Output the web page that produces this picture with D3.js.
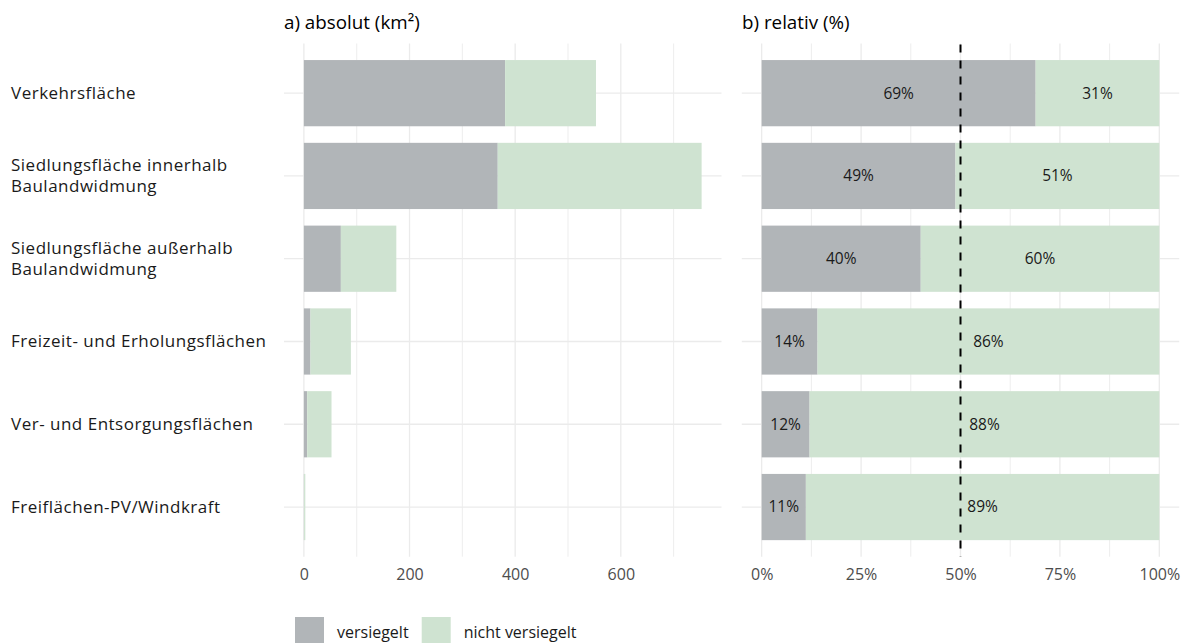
<!DOCTYPE html>
<html><head><meta charset="utf-8">
<script src="https://cdn.jsdelivr.net/npm/d3@7"></script>
<style>
body{margin:0;background:#fff;}
text{font-family:"Open Sans","Noto Sans",sans-serif;}
</style></head>
<body><svg id="c" width="1181" height="643"></svg>
<script>
const categories = ["Verkehrsfläche","Siedlungsfläche innerhalb\nBaulandwidmung","Siedlungsfläche außerhalb\nBaulandwidmung","Freizeit- und Erholungsflächen","Ver- und Entsorgungsflächen","Freiflächen-PV/Windkraft"];
const versiegelt = [381, 367, 70, 12.5, 6.3, 0.3];
const nichtVersiegelt = [172, 386, 105, 76.5, 46, 2.4];
const seriesNames = ["versiegelt","nicht versiegelt"];
const colors = ["#b1b5b8","#cfe3d1"];
const absTicks = [0,200,400,600];
const absMinor = [100,300,500,700];
const relTicks = [0,25,50,75,100];
const relMinor = [12.5,37.5,62.5,87.5];

const svg = d3.select("#c");
const yTop = 43.5, yBottom = 556.7;
const y = d3.scaleBand().domain(categories).range([yTop,yBottom]).paddingInner(0.2).paddingOuter(0.2);

const maxAbs = d3.max(versiegelt.map((v,i)=>v+nichtVersiegelt[i]));
const xa = d3.scaleLinear().domain([-0.05*maxAbs, maxAbs*1.05]).range([284,721.5]);
const xr = d3.scaleLinear().domain([-5,105]).range([741.8,1179.2]);

const grid = "#ebebeb";
function panel(x, major, minor){
  const g = svg.append("g");
  g.selectAll(".mn").data(minor).join("line").attr("x1",d=>x(d)).attr("x2",d=>x(d)).attr("y1",yTop).attr("y2",yBottom).attr("stroke",grid).attr("stroke-width",0.9);
  g.selectAll(".mj").data(major).join("line").attr("x1",d=>x(d)).attr("x2",d=>x(d)).attr("y1",yTop).attr("y2",yBottom).attr("stroke",grid).attr("stroke-width",1.3);
  g.selectAll(".hy").data(categories).join("line").attr("x1",x.range()[0]).attr("x2",x.range()[1]).attr("y1",d=>y(d)+y.bandwidth()/2).attr("y2",d=>y(d)+y.bandwidth()/2).attr("stroke",grid).attr("stroke-width",1.3);
  return g;
}
panel(xa, absTicks, absMinor);
panel(xr, relTicks, relMinor);

// absolute bars
const absData = categories.map((c,i)=>({c, v:versiegelt[i], n:nichtVersiegelt[i]}));
const ga = svg.append("g");
ga.selectAll(".v").data(absData).join("rect").attr("x",xa(0)).attr("y",d=>y(d.c)).attr("height",y.bandwidth()).attr("width",d=>xa(d.v)-xa(0)).attr("fill",colors[0]);
ga.selectAll(".n").data(absData).join("rect").attr("x",d=>xa(d.v)).attr("y",d=>y(d.c)).attr("height",y.bandwidth()).attr("width",d=>xa(d.v+d.n)-xa(d.v)).attr("fill",colors[1]);

// relative bars
const relData = absData.map(d=>{const t=d.v+d.n; return {c:d.c, pv:100*d.v/t, pn:100*d.n/t};});
const gr = svg.append("g");
gr.selectAll(".v").data(relData).join("rect").attr("x",xr(0)).attr("y",d=>y(d.c)).attr("height",y.bandwidth()).attr("width",d=>xr(d.pv)-xr(0)).attr("fill",colors[0]);
gr.selectAll(".n").data(relData).join("rect").attr("x",d=>xr(d.pv)).attr("y",d=>y(d.c)).attr("height",y.bandwidth()).attr("width",d=>xr(100)-xr(d.pv)).attr("fill",colors[1]);
gr.append("line").attr("x1",xr(50)).attr("x2",xr(50)).attr("y1",yTop).attr("y2",yBottom).attr("stroke","#000").attr("stroke-width",2).attr("stroke-dasharray","8,8").attr("stroke-dashoffset",-1);
const pct = v => Math.round(v) + "%";
gr.selectAll(".lv").data(relData).join("text").attr("x",d=>xr(d.pv/2)).attr("y",d=>y(d.c)+y.bandwidth()/2).attr("dy","0.35em").attr("text-anchor","middle").attr("font-size",15.5).attr("fill","#1a1a1a").text(d=>pct(d.pv));
gr.selectAll(".ln").data(relData).join("text").attr("x",d=>xr(d.pv+d.pn/2)).attr("y",d=>y(d.c)+y.bandwidth()/2).attr("dy","0.35em").attr("text-anchor","middle").attr("font-size",15.5).attr("fill","#1a1a1a").text(d=>pct(d.pn));

// axes
const axA = svg.append("g").attr("transform",`translate(0,${yBottom+4})`).call(d3.axisBottom(xa).tickValues(absTicks).tickSize(0).tickPadding(8));
const axR = svg.append("g").attr("transform",`translate(0,${yBottom+4})`).call(d3.axisBottom(xr).tickValues(relTicks).tickFormat(d=>d+"%").tickSize(0).tickPadding(8));
[axA,axR].forEach(a=>{a.select(".domain").remove(); a.selectAll("text").attr("font-size",16).attr("fill","#4d4d4d").attr("font-family","'Open Sans', sans-serif");});

// y labels
const yl = svg.append("g");
categories.forEach(c=>{
  const lines = c.split("\n");
  const cy = y(c)+y.bandwidth()/2;
  lines.forEach((l,i)=>{
    yl.append("text").attr("x",11).attr("y",cy + (i-(lines.length-1)/2)*21).attr("dy","0.35em")
      .attr("font-size",17).attr("letter-spacing",0.5).attr("fill","#1a1a1a").text(l);
  });
});

// titles
svg.append("text").attr("x",284).attr("y",22).attr("dy","0.35em").attr("font-size",18.8).attr("fill","#000").text("a) absolut (km²)");
svg.append("text").attr("x",742).attr("y",22).attr("dy","0.35em").attr("font-size",18.8).attr("fill","#000").text("b) relativ (%)");

// legend
const lg = svg.append("g");
const legX = [295, 421.7];
seriesNames.forEach((s,i)=>{
  lg.append("rect").attr("x",legX[i]).attr("y",617).attr("width",29).attr("height",29).attr("fill",colors[i]);
  lg.append("text").attr("x",legX[i]+42).attr("y",632).attr("dy","0.35em").attr("font-size",16).attr("fill","#1a1a1a").text(s);
});
</script></body></html>
